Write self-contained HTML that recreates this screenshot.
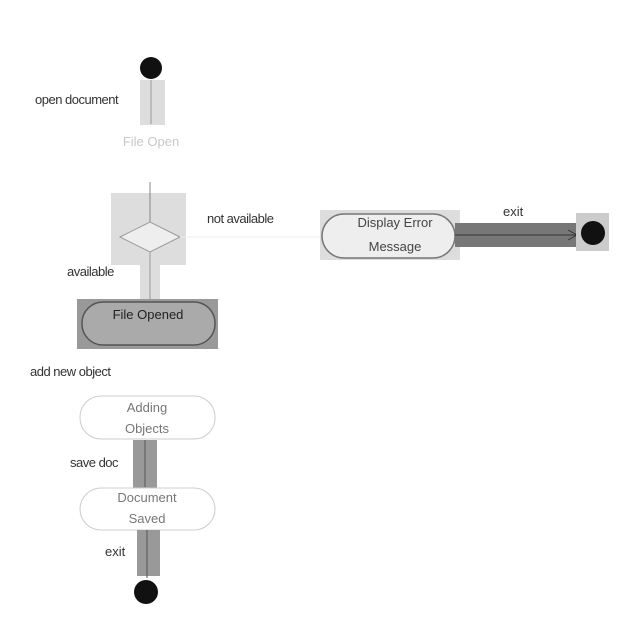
<!DOCTYPE html>
<html><head><style>body{margin:0;background:#fff}svg{display:block}text{font-family:"Liberation Sans",sans-serif;font-size:13px;fill:#333}</style></head>
<body>
<svg width="640" height="640" viewBox="0 0 640 640">
<rect width="640" height="640" fill="#fff"/>
<circle cx="151" cy="68" r="11" fill="#111"/>
<rect x="140" y="80" width="25" height="45" fill="#ddd"/>
<line x1="151" y1="80" x2="151" y2="124" stroke="#999"/>
<text x="35" y="104" letter-spacing="-0.5">open document</text>
<text x="151" y="146" text-anchor="middle" fill="#ccc" style="fill:#c8c8c8">File Open</text>
<line x1="150" y1="182" x2="150" y2="220" stroke="#888"/>
<rect x="111" y="193" width="75" height="72" fill="#ddd"/>
<line x1="150" y1="193" x2="150" y2="222" stroke="#888"/>
<polygon points="120,237 150,222 180,237 150,252" fill="#eee" stroke="#999"/>
<line x1="180" y1="237" x2="322" y2="237" stroke="#eee"/>
<text x="207" y="223" letter-spacing="-0.5">not available</text>
<rect x="140" y="252" width="20" height="48" fill="#ddd"/>
<line x1="150" y1="252" x2="150" y2="300" stroke="#999"/>
<text x="67" y="276" letter-spacing="-0.5">available</text>
<rect x="77" y="299" width="141" height="50" fill="#999"/>
<rect x="82" y="302" width="133" height="43" rx="21" fill="#aaa" stroke="#555" stroke-width="1.5"/>
<text x="148" y="319" text-anchor="middle" style="fill:#222">File Opened</text>
<text x="30" y="376" letter-spacing="-0.5">add new object</text>
<rect x="80" y="396" width="135" height="43" rx="21" fill="#fff" stroke="#ccc"/>
<text x="147" y="412" text-anchor="middle" style="fill:#777">Adding</text>
<text x="147" y="433" text-anchor="middle" style="fill:#777">Objects</text>
<rect x="133" y="440" width="24" height="48" fill="#999"/>
<line x1="145" y1="440" x2="145" y2="487" stroke="#555"/>
<text x="70" y="467" letter-spacing="-0.5">save doc</text>
<rect x="80" y="488" width="135" height="42" rx="21" fill="#fff" stroke="#ccc"/>
<text x="147" y="502" text-anchor="middle" style="fill:#777">Document</text>
<text x="147" y="523" text-anchor="middle" style="fill:#777">Saved</text>
<rect x="137" y="530" width="23" height="46" fill="#999"/>
<line x1="147" y1="530" x2="147" y2="578" stroke="#555"/>
<text x="105" y="556">exit</text>
<circle cx="146" cy="592" r="12" fill="#111"/>
<rect x="320" y="210" width="140" height="50" fill="#ddd"/>
<rect x="322" y="214" width="133" height="44" rx="22" fill="#eee" stroke="#777" stroke-width="1.5"/>
<text x="395" y="227" text-anchor="middle" style="fill:#444">Display Error</text>
<text x="395" y="251" text-anchor="middle" style="fill:#444">Message</text>
<rect x="455" y="223" width="122" height="24" fill="#777"/>
<line x1="455" y1="235" x2="577" y2="235" stroke="#333"/>
<polyline points="568,230 577,235 568,240" fill="none" stroke="#333"/>
<text x="503" y="216">exit</text>
<rect x="576" y="213" width="33" height="38" fill="#ccc"/>
<circle cx="593" cy="233" r="12" fill="#111"/>
</svg>
</body></html>
